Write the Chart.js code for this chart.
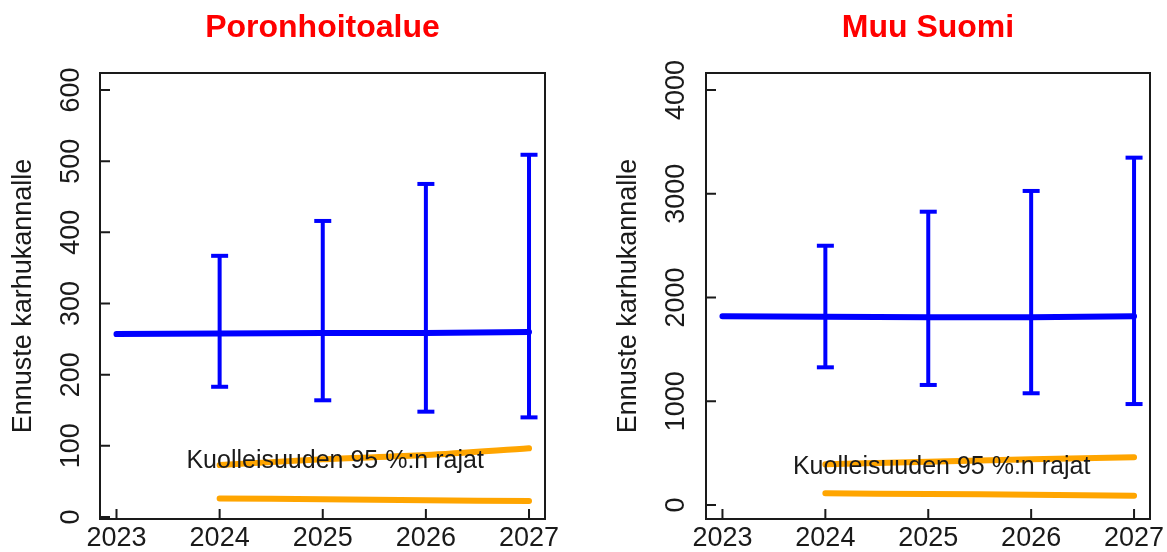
<!DOCTYPE html>
<html lang="fi">
<head>
  <meta charset="UTF-8">
  <title>Ennuste karhukannalle</title>
  <style>
    html, body { margin: 0; padding: 0; background: #fff; }
    .panel { position: absolute; top: 0; height: 552px; }
    #leftPanel { left: 0; width: 583px; }
    #rightPanel { left: 583px; width: 584px; }
  </style>
</head>
<body>
  <div class="panel" id="leftPanel"><canvas id="poroChart"></canvas></div>
  <div class="panel" id="rightPanel"><canvas id="muuChart"></canvas></div>

  <script src="https://cdn.jsdelivr.net/npm/chart.js"></script>
  <script>
    // vuodet
    const years = [2023, 2024, 2025, 2026, 2027];
    const forecastYears = [2024, 2025, 2026, 2027];

    // Poronhoitoalue
    const poroMean = [257, 258, 258.5, 258.5, 260];
    const poroLow = [183, 164, 148, 140];
    const poroHigh = [367, 416, 468, 509];
    const poroDeathUpper = [73, 81, 87, 96.5];
    const poroDeathLower = [26, 25, 23.5, 22.5];
    const poroTicks = [0, 100, 200, 300, 400, 500, 600];

    // Muu Suomi
    const muuMean = [1820, 1815, 1810, 1810, 1820];
    const muuLow = [1327, 1157, 1077, 973];
    const muuHigh = [2499, 2827, 3027, 3348];
    const muuDeathUpper = [392, 417, 440, 460];
    const muuDeathLower = [113, 106, 99, 90];
    const muuTicks = [0, 1000, 2000, 3000, 4000];

    const yTitle = "Ennuste karhukannalle";
    const noteText = "Kuolleisuuden 95 %:n rajat";

    const FONT = "'Liberation Sans', Arial, sans-serif";
    const INK = "#1a1a1a";
    const BLUE = "#0000ff";
    const ORANGE = "#ffa500";

    // kehys + sisäänpäin osoittavat tikit
    const framePlugin = {
      id: "frame",
      afterDraw(chart) {
        const { ctx, chartArea: a, scales } = chart;
        ctx.save();
        ctx.strokeStyle = INK;
        ctx.lineWidth = 2;
        ctx.strokeRect(a.left, a.top, a.right - a.left, a.bottom - a.top);
        ctx.beginPath();
        scales.y.ticks.forEach(t => {
          const py = scales.y.getPixelForValue(t.value);
          ctx.moveTo(a.left, py);
          ctx.lineTo(a.left + 10, py);
        });
        scales.x.ticks.forEach(t => {
          const px = scales.x.getPixelForValue(t.value);
          ctx.moveTo(px, a.bottom);
          ctx.lineTo(px, a.bottom - 10);
        });
        ctx.stroke();
        ctx.restore();
      }
    };

    const textPlugin = {
      id: "texts",
      afterDatasetsDraw(chart, args, opts) {
        const { ctx, chartArea: a, scales } = chart;
        ctx.save();
        ctx.fillStyle = INK;
        ctx.font = "25px " + FONT;
        ctx.textAlign = "center";
        ctx.textBaseline = "middle";
        ctx.fillText(noteText, scales.x.getPixelForValue(opts.noteX), scales.y.getPixelForValue(opts.noteY));

        ctx.fillStyle = "#ff0000";
        ctx.font = "bold 32px " + FONT;
        ctx.textBaseline = "alphabetic";
        ctx.fillText(opts.title, (a.left + a.right) / 2, 37);
        ctx.restore();
      }
    };

    function makeChart(id, cfg) {
      const datasets = [];

      datasets.push({
        data: years.map((x, i) => ({ x: x, y: cfg.mean[i] })),
        borderColor: BLUE,
        borderWidth: 6,
        borderCapStyle: "round",
        pointRadius: 0,
        tension: 0
      });

      forecastYears.forEach((x, i) => {
        datasets.push({
          data: [{ x: x, y: cfg.low[i] }, { x: x, y: cfg.high[i] }],
          borderColor: BLUE,
          borderWidth: 4,
          pointStyle: "line",
          pointRadius: 8.5,
          pointBorderWidth: 4,
          pointBorderColor: BLUE,
          pointBackgroundColor: BLUE
        });
      });

      [cfg.deathUpper, cfg.deathLower].forEach(vals => {
        datasets.push({
          data: forecastYears.map((x, i) => ({ x: x, y: vals[i] })),
          borderColor: ORANGE,
          borderWidth: 6,
          borderCapStyle: "round",
          pointRadius: 0,
          tension: 0.3
        });
      });

      return new Chart(document.getElementById(id), {
        type: "line",
        data: { datasets: datasets },
        options: {
          responsive: true,
          maintainAspectRatio: false,
          animation: false,
          events: [],
          layout: { padding: { left: 0, right: cfg.padRight, top: 73, bottom: 0 } },
          plugins: {
            legend: { display: false },
            tooltip: { enabled: false },
            texts: { title: cfg.title, noteX: cfg.noteX, noteY: cfg.noteY }
          },
          scales: {
            x: {
              type: "linear",
              min: 2022.84,
              max: 2027.155,
              afterBuildTicks: s => { s.ticks = years.map(v => ({ value: v })); },
              afterFit: s => { s.height = 33; s.paddingLeft = 0; s.paddingRight = 0; },
              grid: { display: false, drawTicks: false },
              border: { display: false },
              ticks: {
                autoSkip: false,
                maxRotation: 0,
                padding: 3,
                color: INK,
                font: { size: 27, family: FONT },
                callback: v => String(v)
              }
            },
            y: {
              type: "linear",
              min: cfg.yMin,
              max: cfg.yMax,
              afterBuildTicks: s => { s.ticks = cfg.ticks.map(v => ({ value: v })); },
              afterFit: s => { s.width = cfg.axisWidth; s.paddingTop = 0; s.paddingBottom = 0; },
              grid: { display: false, drawTicks: false },
              border: { display: false },
              ticks: {
                autoSkip: false,
                minRotation: 90,
                maxRotation: 90,
                crossAlign: "center",
                padding: cfg.tickPad,
                color: INK,
                font: { size: 27, family: FONT },
                callback: v => String(v)
              },
              title: {
                display: true,
                text: yTitle,
                color: INK,
                font: { size: 27, family: FONT },
                padding: { top: cfg.titlePad, bottom: 0 }
              }
            }
          }
        },
        plugins: [framePlugin, textPlugin]
      });
    }

    makeChart("poroChart", {
      title: "Poronhoitoalue",
      mean: poroMean, low: poroLow, high: poroHigh,
      deathUpper: poroDeathUpper, deathLower: poroDeathLower,
      ticks: poroTicks, yMin: -2.8, yMax: 623.9,
      axisWidth: 100, padRight: 38, tickPad: 6, titlePad: 7,
      noteX: 2025.12, noteY: 79
    });

    makeChart("muuChart", {
      title: "Muu Suomi",
      mean: muuMean, low: muuLow, high: muuHigh,
      deathUpper: muuDeathUpper, deathLower: muuDeathLower,
      ticks: muuTicks, yMin: -135, yMax: 4164,
      axisWidth: 123, padRight: 17, tickPad: -1, titlePad: 29.5,
      noteX: 2025.13, noteY: 363
    });
  </script>
</body>
</html>
